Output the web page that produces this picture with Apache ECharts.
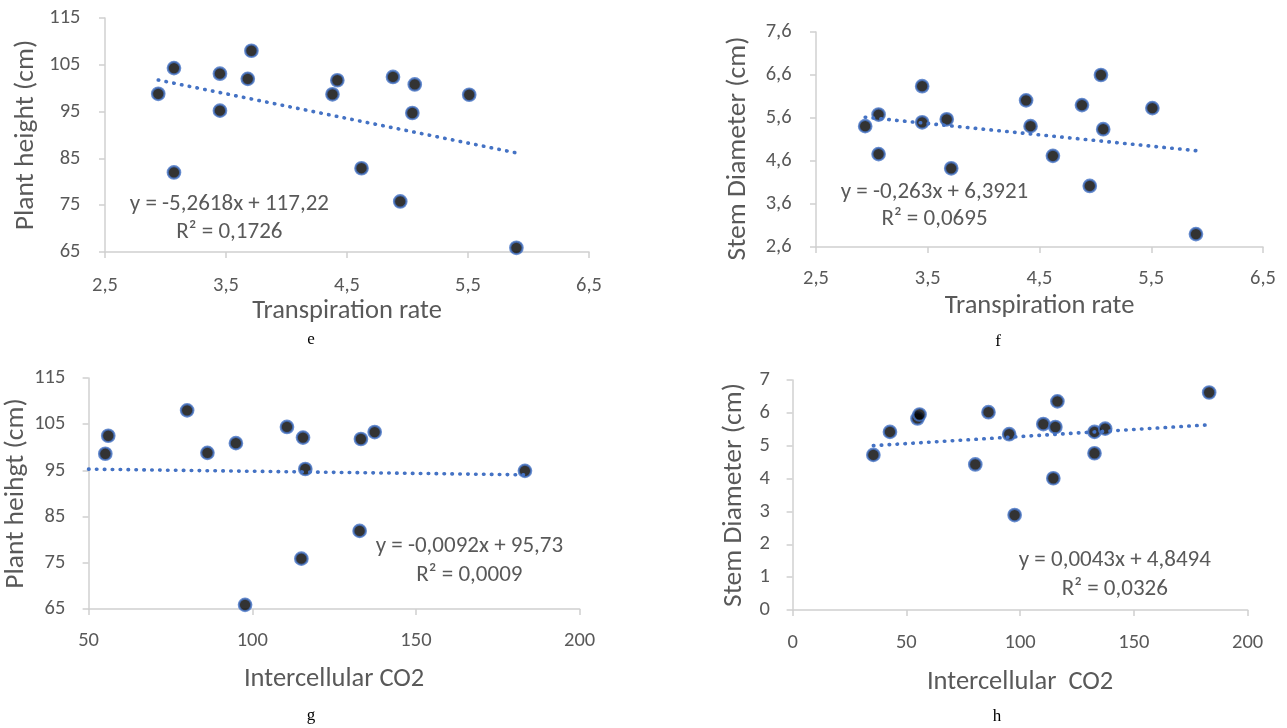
<!DOCTYPE html>
<html>
<head>
<meta charset="utf-8">
<script src="https://cdn.jsdelivr.net/npm/echarts@6/dist/echarts.min.js"></script>
<style>
html,body{margin:0;padding:0;background:#fff;}
#chart{width:1287px;height:728px;}
</style>
</head>
<body>
<div id="chart"></div>
<script>
// ---- Data ----
// e: Transpiration rate vs Plant height
const eX = [2.94, 3.07, 3.07, 3.45, 3.45, 3.68, 3.71, 4.38, 4.42, 4.62, 4.88, 4.94, 5.04, 5.06, 5.51, 5.90];
const eY = [98.8, 104.3, 82.0, 103.1, 95.2, 102.0, 108.0, 98.7, 101.7, 82.9, 102.4, 75.8, 94.7, 100.8, 98.6, 65.9];
// f: Transpiration rate vs Stem diameter
const fX = [2.94, 3.06, 3.06, 3.45, 3.45, 3.67, 3.71, 4.38, 4.42, 4.62, 4.88, 4.95, 5.05, 5.07, 5.51, 5.90];
const fY = [5.41, 5.68, 4.76, 6.34, 5.50, 5.57, 4.43, 6.01, 5.41, 4.72, 5.90, 4.02, 6.60, 5.34, 5.83, 2.90];
// g: Intercellular CO2 vs Plant height (two points lie left of the axis minimum)
const gX = [35.5, 42.8, 55.1, 56.0, 80.1, 86.3, 95.0, 97.8, 110.6, 115.0, 115.5, 116.2, 132.8, 133.2, 137.4, 183.3];
const gY = [98.7, 82.9, 98.6, 102.5, 108.0, 98.8, 100.9, 65.9, 104.4, 75.9, 102.1, 95.3, 81.9, 101.8, 103.3, 94.9];
// h: Intercellular CO2 vs Stem diameter
const hX = [35.5, 42.8, 54.9, 55.8, 86.1, 80.3, 95.2, 97.6, 110.2, 115.5, 114.6, 116.4, 132.7, 132.7, 137.4, 183.1];
const hY = [4.72, 5.42, 5.83, 5.95, 6.02, 4.43, 5.35, 2.89, 5.66, 5.57, 4.01, 6.35, 5.42, 4.77, 5.52, 6.62];

// Linear trendline coefficients [slope, intercept] as printed on the chart
const eFit = [-5.2618, 117.22];
const fFit = [-0.263, 6.3921];
const gFit = [-0.0092, 95.73];
const hFit = [0.0043, 4.8494];

// Equation labels
const eEq = ['y = -5,2618x + 117,22', 'R² = 0,1726'];
const fEq = ['y = -0,263x + 6,3921', 'R² = 0,0695'];
const gEq = ['y = -0,0092x + 95,73', 'R² = 0,0009'];
const hEq = ['y = 0,0043x + 4,8494', 'R² = 0,0326'];

// Axis ticks
const eXTicks = [2.5, 3.5, 4.5, 5.5, 6.5];
const eYTicks = [65, 75, 85, 95, 105, 115];
const fXTicks = [2.5, 3.5, 4.5, 5.5, 6.5];
const fYTicks = [2.6, 3.6, 4.6, 5.6, 6.6, 7.6];
const gXTicks = [50, 100, 150, 200];
const gYTicks = [65, 75, 85, 95, 105, 115];
const hXTicks = [0, 50, 100, 150, 200];
const hYTicks = [0, 1, 2, 3, 4, 5, 6, 7];

// Axis titles and captions
const xTitles = ['Transpiration rate', 'Transpiration rate', 'Intercellular CO2', 'Intercellular  CO2'];
const yTitles = ['Plant height (cm)', 'Stem Diameter (cm)', 'Plant heihgt (cm)', 'Stem Diameter (cm)'];
const captions = ['e', 'f', 'g', 'h'];

// ---- Chart ----
const FONT = "Carlito, Lato, 'Open Sans', sans-serif";
const GREY = '#595959';
const AXIS = '#d0d0d0';
const BLUE = '#4472C4';

function fmt(ticks) {
  const dec = ticks.some(t => Math.round(t) !== t) ? 1 : 0;
  return v => v.toFixed(dec).replace('.', ',');
}

const panels = [
  {x: eX, y: eY, fit: eFit, eq: eEq, xt: eXTicks, yt: eYTicks,
   grid: {left: 105, top: 18, width: 484, height: 234}, xGap: 45, yGap: 65, yPad: [0,0,0,0], xMargin: 23.5, yMargin: 24.5,
   eqPos: [229.4, 204, 232.5], cap: [311, 340]},
  {x: fX, y: fY, fit: fFit, eq: fEq, xt: fXTicks, yt: fYTicks,
   grid: {left: 816, top: 32, width: 447, height: 215}, xGap: 45.5, yGap: 63.5, yPad: [0,18,0,0], xMargin: 21.5, yMargin: 24.4,
   eqPos: [934.5, 192, 219.5], cap: [998, 342]},
  {x: gX, y: gY, fit: gFit, eq: gEq, xt: gXTicks, yt: gYTicks,
   grid: {left: 88.6, top: 378, width: 491, height: 231}, xGap: 56.5, yGap: 54.5, yPad: [0,0,0,0], xMargin: 21.5, yMargin: 23.3,
   eqPos: [469.4, 546.5, 575], cap: [311, 716]},
  {x: hX, y: hY, fit: hFit, eq: hEq, xt: hXTicks, yt: hYTicks,
   grid: {left: 792.6, top: 380, width: 455, height: 230}, xGap: 59, yGap: 44, yPad: [0,0,0,0], xMargin: 22.5, yMargin: 22.6,
   eqPos: [1114.8, 560.5, 589.5], cap: [997, 717]}
];

const grid = [], xAxis = [], yAxis = [], series = [], graphic = [];

panels.forEach((p, i) => {
  grid.push(Object.assign({containLabel: false}, p.grid));
  const axisCommon = {
    axisLine: {show: true, lineStyle: {color: AXIS, width: 1.5}},
    axisTick: {show: true, length: 6, lineStyle: {color: AXIS, width: 1.5}},
    splitLine: {show: false}
  };
  xAxis.push(Object.assign({}, axisCommon, {
    type: 'value', gridIndex: i,
    min: p.xt[0], max: p.xt[p.xt.length - 1], interval: p.xt[1] - p.xt[0],
    axisLabel: {color: GREY, fontFamily: FONT, fontSize: 20.5, margin: p.xMargin, formatter: fmt(p.xt)},
    name: xTitles[i], nameLocation: 'middle', nameGap: p.xGap,
    nameTextStyle: {color: GREY, fontFamily: FONT, fontSize: 26.5}
  }));
  yAxis.push(Object.assign({}, axisCommon, {
    type: 'value', gridIndex: i,
    min: p.yt[0], max: p.yt[p.yt.length - 1], interval: +(p.yt[1] - p.yt[0]).toFixed(4),
    axisLabel: {color: GREY, fontFamily: FONT, fontSize: 20.5, margin: p.yMargin, formatter: fmt(p.yt)},
    name: yTitles[i], nameLocation: 'middle', nameGap: p.yGap, nameRotate: 90,
    nameTextStyle: {color: GREY, fontFamily: FONT, fontSize: 27.5, padding: p.yPad}
  }));
  series.push({
    type: 'scatter', xAxisIndex: i, yAxisIndex: i, clip: true,
    data: p.x.map((v, k) => [v, p.y[k]]),
    symbol: 'circle', symbolSize: 12.5,
    itemStyle: {color: '#000', borderColor: BLUE, borderWidth: 2.2},
    z: 2
  });
  const xmin = Math.min(...p.x), xmax = Math.max(...p.x);
  series.push({
    type: 'line', xAxisIndex: i, yAxisIndex: i, clip: true,
    data: [[xmin, p.fit[0] * xmin + p.fit[1]], [xmax, p.fit[0] * xmax + p.fit[1]]],
    symbol: 'none', silent: true,
    lineStyle: {color: BLUE, width: 3.6, type: [0.5, 7.4], cap: 'round'},
    z: 3
  });
  graphic.push({type: 'text', x: p.eqPos[0], y: p.eqPos[1],
    style: {text: p.eq[0], fill: GREY, font: '23px ' + FONT, textAlign: 'center', textVerticalAlign: 'middle'}});
  graphic.push({type: 'text', x: p.eqPos[0], y: p.eqPos[2],
    style: {text: p.eq[1], fill: GREY, font: '23px ' + FONT, textAlign: 'center', textVerticalAlign: 'middle'}});
  graphic.push({type: 'text', x: p.cap[0], y: p.cap[1],
    style: {text: captions[i], fill: '#000', font: '17px "Liberation Serif", "Times New Roman", serif', textAlign: 'center', textVerticalAlign: 'middle'}});
});

const chart = echarts.init(document.getElementById('chart'), null, {renderer: 'canvas'});
chart.setOption({
  backgroundColor: '#fff',
  animation: false,
  grid, xAxis, yAxis, series, graphic
});
</script>
</body>
</html>
